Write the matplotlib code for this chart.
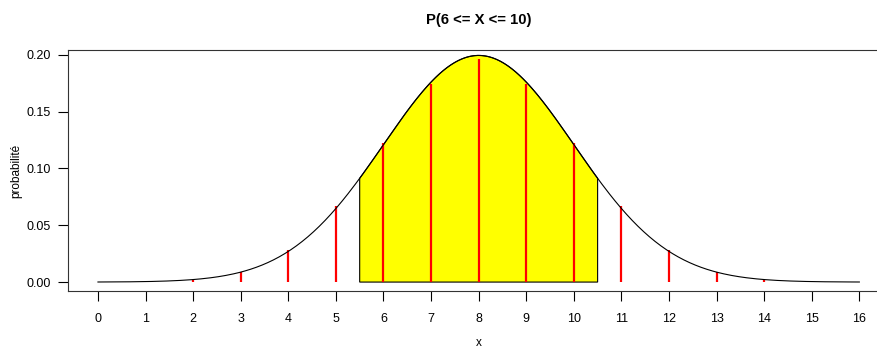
import numpy as np
import matplotlib
matplotlib.use("Agg")
import matplotlib.pyplot as plt

plt.rcParams['font.family'] = ['Liberation Sans', 'DejaVu Sans']

# Data
k_values = list(range(0, 17))
pmf_values = [0.0000153, 0.000244, 0.00183, 0.00854, 0.0278, 0.0667, 0.1222,
              0.1746, 0.1964, 0.1746, 0.1222, 0.0667, 0.0278, 0.00854,
              0.00183, 0.000244, 0.0000153]
x_ticks = list(range(0, 17))
y_ticks = [0.00, 0.05, 0.10, 0.15, 0.20]
y_tick_labels = ["0.00", "0.05", "0.10", "0.15", "0.20"]
normal_mean = 8.0
normal_sd = 2.0
shade_low, shade_high = 5.5, 10.5
title = "P(6 <= X <= 10)"

def dnorm(x):
    return np.exp(-0.5 * ((x - normal_mean) / normal_sd) ** 2) / (normal_sd * np.sqrt(2 * np.pi))

fig = plt.figure(figsize=(8.78, 3.49), dpi=100)
ax = fig.add_axes([67.5 / 878, 58 / 349, (889.8 - 67.5) / 878, 241 / 349])

xs = np.linspace(0, 16, 400)
xp = np.linspace(shade_low, shade_high, 200)
poly_x = np.concatenate([[shade_low], xp, [shade_high]])
poly_y = np.concatenate([[0], dnorm(xp), [0]])
ax.fill(poly_x, poly_y, facecolor='#ffff00', edgecolor='black', linewidth=0.8, zorder=1)

ax.vlines(k_values, 0, pmf_values, colors='#ff0000', linewidth=1.6, zorder=2)
ax.plot(xs, dnorm(xs), color='black', linewidth=0.8, zorder=3)

ymax = max(pmf_values)
ax.set_xlim(-0.64, 16.64)
ax.set_ylim(-0.04 * ymax, 1.04 * ymax)
ax.set_xticks(x_ticks)
ax.set_xticklabels([str(t) for t in x_ticks])
ax.set_yticks(y_ticks)
ax.set_yticklabels(y_tick_labels)
ax.tick_params(axis='both', direction='out', length=7, width=0.8, pad=5,
               labelsize=9, colors='black')
ax.tick_params(axis='x', pad=9)
for s in ax.spines.values():
    s.set_linewidth(0.8)
    s.set_color('#333333')

fig.text(478.5 / 878, 1 - 20 / 349, title, ha='center', va='center', fontsize=10.7, fontweight='bold')
fig.text(478.5 / 878, 1 - 343 / 349, "x", ha='center', va='center', fontsize=8.5)
fig.text(16 / 878, 1 - 171 / 349, "probabilité", ha='center', va='center', rotation=90, fontsize=8.5)

fig.savefig("out.png", dpi=100)
